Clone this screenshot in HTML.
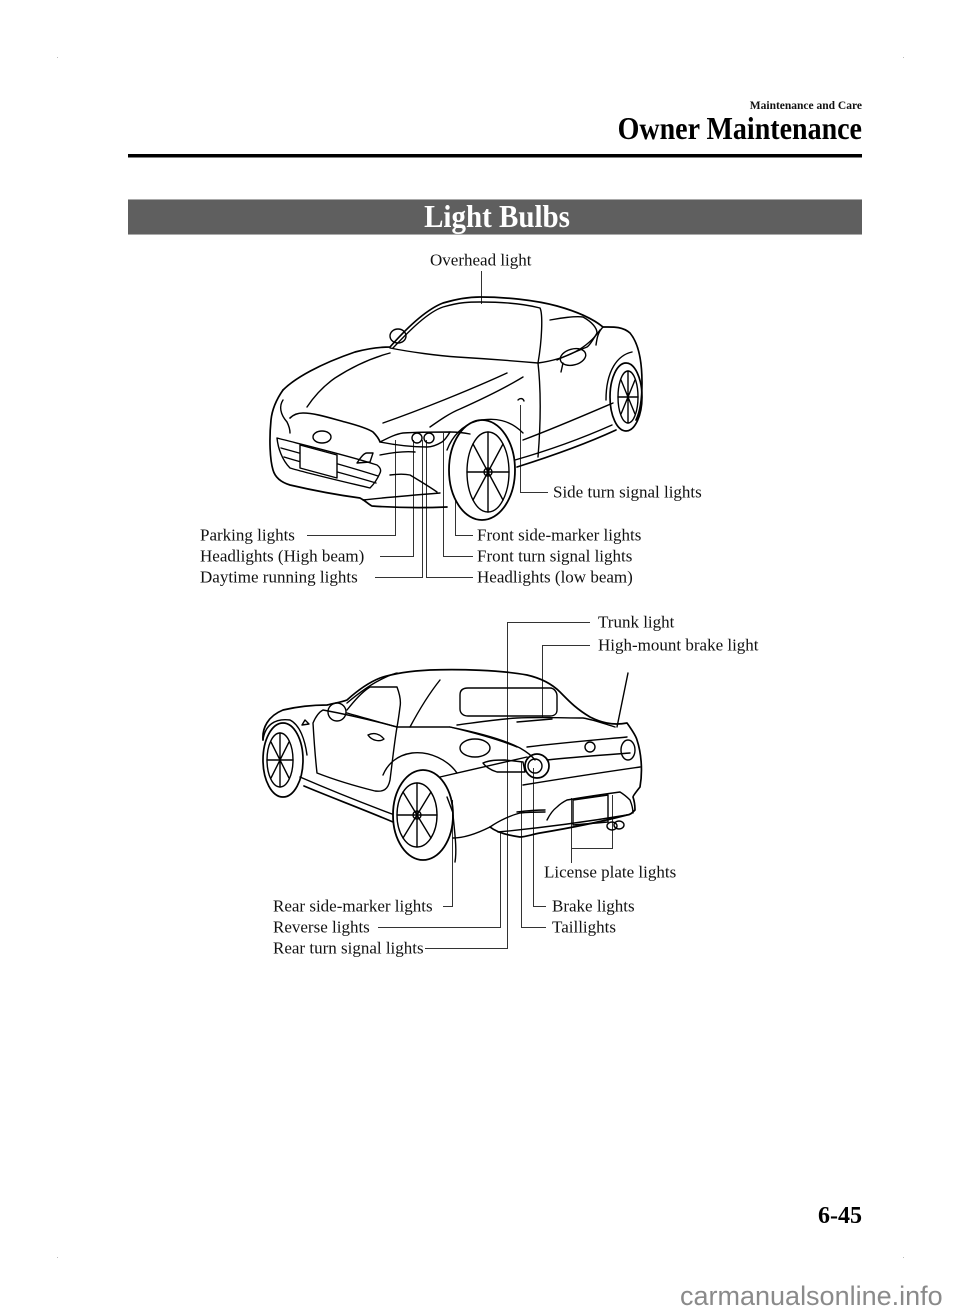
<!DOCTYPE html>
<html><head><meta charset="utf-8"><style>
html,body{margin:0;padding:0;background:#fff;}
svg{display:block;}
</style></head><body>
<svg width="960" height="1315" viewBox="0 0 960 1315" xmlns="http://www.w3.org/2000/svg">
<rect width="960" height="1315" fill="#fff"/>
<!-- crop dots -->
<g fill="#bbb"><rect x="57" y="57" width="1" height="1"/><rect x="903" y="57" width="1" height="1"/><rect x="57" y="1257" width="1" height="1"/><rect x="903" y="1257" width="1" height="1"/></g>
<!-- header -->
<text x="862" y="109" text-anchor="end" font-family="Liberation Serif, serif" font-weight="bold" font-size="11.5" fill="#111">Maintenance and Care</text>
<text x="862" y="139" text-anchor="end" font-family="Liberation Serif, serif" font-weight="bold" font-size="28" fill="#000" transform="translate(0 139) scale(1 1.12) translate(0 -139)">Owner Maintenance</text>
<rect x="128" y="154" width="734" height="3.5" fill="#000"/>
<rect x="128" y="199" width="734" height="36" fill="#5f5f5f"/>
<rect x="128" y="199" width="734" height="1" fill="#aaa"/>
<rect x="128" y="234" width="734" height="1" fill="#aaa"/>
<text x="497" y="227" text-anchor="middle" font-family="Liberation Serif, serif" font-weight="bold" font-size="29" fill="#fff" transform="translate(0 227) scale(1 1.08) translate(0 -227)">Light Bulbs</text>

<!-- labels -->
<g font-family="Liberation Serif, serif" font-size="17" fill="#111">
<text x="430" y="265.5">Overhead light</text>
<text x="553" y="497.5">Side turn signal lights</text>
<text x="200" y="540.5">Parking lights</text>
<text x="200" y="561.5">Headlights (High beam)</text>
<text x="200" y="582.5">Daytime running lights</text>
<text x="477" y="540.5">Front side-marker lights</text>
<text x="477" y="561.5">Front turn signal lights</text>
<text x="477" y="582.5">Headlights (low beam)</text>
<text x="598" y="627.5">Trunk light</text>
<text x="598" y="650.5">High-mount brake light</text>
<text x="544" y="877.5">License plate lights</text>
<text x="273" y="911.5">Rear side-marker lights</text>
<text x="273" y="932.5">Reverse lights</text>
<text x="273" y="953.5">Rear turn signal lights</text>
<text x="552" y="911.5">Brake lights</text>
<text x="552" y="932.5">Taillights</text>
</g>

<!-- leader lines -->
<g stroke="#333" stroke-width="1" fill="none">
<path d="M481.5 271 V304"/>
<path d="M520.5 405 V492.5 H548"/>
<path d="M307 535.5 H395.5 V440"/>
<path d="M380 556.5 H413.5 V440"/>
<path d="M375 577.5 H422.5 V440"/>
<path d="M473 577.5 H426.5 V440"/>
<path d="M473 556.5 H443.5 V433"/>
<path d="M473 535.5 H455.5 V500"/>
<path d="M590 622.5 H507.5 V948.5 H425"/>
<path d="M590 645.5 H542.5 V717"/>
<path d="M378 927.5 H500.5 V833"/>
<path d="M546 927.5 H521.5 V762"/>
<path d="M546 906.5 H533.5 V768"/>
<path d="M443 906.5 H452.5 V800"/>
<path d="M571.5 798 V863 M571.5 848.5 H612.5 V795"/>
</g>

<!-- FRONT CAR -->
<g stroke="#000" stroke-width="1.4" fill="none" stroke-linejoin="round" stroke-linecap="round">
<!-- hood outer / roof / rear -->
<path d="M283 390 C276 400 272 410 271 420 C269 440 270 460 273 470 C275 477 280 482 290 485 C320 492 345 496 360 498 C366 501 368 504 372 506 C400 508 425 508 447 507" stroke-width="1.7"/>
<path d="M283 390 C295 378 320 364 355 352 C370 348 382 347 390 347 C405 330 425 310 443 303 C460 298 470 297 480 297 C505 297 535 300 557 306 C575 311 592 318 603 327 C612 327 622 326 630 333 C640 345 642 365 642 383 C642 400 640 412 636 420" stroke-width="1.7"/>
<path d="M603 327 C598 332 597 338 596 345"/>
<!-- windshield -->
<path d="M393 348 C410 330 428 312 443 307 C460 302 470 302 480 302 C505 302 525 304 540 308 C543 314 542 340 538 363"/>
<path d="M390 348 C410 352 440 356 457 357 C490 359 515 361 538 363"/>
<!-- side window -->
<path d="M550 320 C560 318 575 316 583 317 C592 322 597 328 597 333 C593 340 590 345 587 347 C575 352 565 356 557 360"/>
<!-- mirrors -->
<ellipse cx="573" cy="357" rx="13" ry="8" transform="rotate(-15 573 357)"/>
<path d="M563 363 L561 372"/>
<ellipse cx="398" cy="336" rx="8" ry="7"/>
<!-- door/body -->
<path d="M538 363 C541 390 541 420 538 457"/>
<path d="M538 363 C560 360 585 352 600 330"/>
<path d="M523 440 C555 428 585 415 613 403"/>
<path d="M517 467 C555 455 590 442 616 430" stroke-width="1.7"/>
<path d="M515 460 C550 450 585 437 612 425"/>
<!-- rear wheel -->
<ellipse cx="626" cy="397" rx="16" ry="34" stroke-width="1.7"/>
<ellipse cx="628" cy="397" rx="10" ry="26"/>
<path d="M628 371 V423 M618 397 H638 M621 380 L635 414 M635 380 L621 414"/>
<path d="M606 400 C606 370 618 355 632 352"/>
<!-- front wheel -->
<path d="M447 450 C452 437 462 425 477 421 C495 417 510 420 523 433"/>
<ellipse cx="482" cy="470" rx="33" ry="50" stroke-width="1.8"/>
<ellipse cx="488" cy="472" rx="21" ry="40"/>
<circle cx="488" cy="472" r="4"/>
<path d="M488 432 V512 M467 472 H509 M473 444 L503 500 M503 444 L473 500"/>
<!-- nose -->
<path d="M290 418 C294 414 298 413 303 413 C315 413 330 418 345 422 C360 426 370 430 373 432 C377 436 379 439 380 442" stroke-width="1.6"/>
<path d="M283 400 C279 406 280 414 287 422 C289 426 290 430 290 433"/>
<!-- headlight -->
<path d="M380 442 C390 437 396 434 403 433 C420 432 438 432 450 432 C447 437 445 440 442 442 C437 445 432 447 427 447 C415 447 400 446 380 442 Z"/>
<circle cx="417" cy="438" r="5"/>
<circle cx="429" cy="438" r="5"/>
<ellipse cx="322" cy="437" rx="9" ry="6"/>
<!-- grille -->
<path d="M277 438 C300 444 350 456 377 465 C381 468 381 471 380 473 C377 480 373 485 370 488 C345 482 310 474 290 468 C282 460 278 448 277 438 Z"/>
<path d="M281 448 C310 456 350 467 378 476 M284 457 C310 465 350 475 376 483"/>
<path d="M300 445 L337 455 L337 478 L300 468 Z" fill="#fff"/>
<path d="M357 463 C361 457 364 453 367 453 L373 453 L370 462 Z"/>
<!-- lower bumper -->
<path d="M390 475 C398 474 405 474 410 475 C420 481 430 487 437 492"/>
<path d="M363 500 C390 497 415 495 440 493"/>
<path d="M380 455 C395 452 405 451 415 452"/>
<path d="M450 432 C458 432 465 433 470 434"/>
<!-- hood lines -->
<path d="M307 407 C315 395 325 385 335 378 C355 365 375 357 390 353"/>
<path d="M383 423 C420 410 470 390 507 373"/>
<path d="M430 427 C440 420 450 413 460 409 C480 400 505 388 523 377"/>
<path d="M518 400 C520 398 523 398 524 401"/>
</g>

<!-- REAR CAR -->
<g stroke="#000" stroke-width="1.4" fill="none" stroke-linejoin="round" stroke-linecap="round">
<!-- outer roof/body -->
<path d="M263 740 C262 728 268 716 283 710 C300 706 315 705 327 705 C335 703 342 702 347 700 C358 690 370 682 380 678 C395 673 410 671 430 670 C460 669 500 670 527 675 C540 678 552 684 560 692 C568 700 575 708 590 717 C600 722 612 726 627 723 C632 730 636 736 637 740 C641 752 643 770 640 787 C636 792 633 796 633 797 C635 803 635 808 635 810 C632 813 630 815 627 815 C600 822 570 828 540 833 C530 835 525 837 520 837 C505 835 495 831 490 827" stroke-width="1.7"/>
<!-- A pillar & windows -->
<path d="M347 703 C360 692 372 684 380 680 C386 677 392 674 397 673"/>
<path d="M347 710 C355 700 362 692 370 687 L397 687 C400 695 401 702 400 707 C399 715 398 722 397 727"/>
<path d="M347 713 C365 718 385 724 397 727 C420 727 440 727 450 727 C475 733 500 740 517 747"/>
<path d="M410 727 C418 712 428 695 440 680"/>
<path d="M460 695 C460 690 463 688 468 688 L550 688 C554 688 557 692 557 696 L557 710 C557 714 554 716 550 716 L468 716 C463 716 460 713 460 709 Z"/>
<path d="M457 725 C480 722 500 719 517 718 C540 717 565 718 583 718 C595 720 605 724 615 727"/>
<path d="M517 722 L552 719"/>
<!-- mirror -->
<ellipse cx="337" cy="712" rx="9" ry="9"/>
<!-- front-left wheel -->
<ellipse cx="283" cy="760" rx="20" ry="37" stroke-width="1.7"/>
<ellipse cx="280" cy="760" rx="13" ry="27"/>
<path d="M280 733 V787 M267 760 H293 M271 742 L289 778 M289 742 L271 778"/>
<path d="M263 740 C265 725 275 718 290 720 C300 725 305 740 307 755"/>
<path d="M305 720 L309 724 L302 725 Z"/>
<!-- door -->
<path d="M313 723 C316 716 319 712 323 710 C350 715 375 721 397 727 C394 745 392 765 390 780 C388 790 383 792 375 791 C355 786 335 780 317 773 C315 755 314 740 313 723 Z"/>
<path d="M368 735 C374 732 380 734 384 739 C380 742 372 741 368 735 Z"/>
<!-- rocker -->
<path d="M300 777 C330 790 360 802 392 814"/>
<path d="M304 786 C330 797 360 808 393 822" stroke-width="1.7"/>
<!-- rear wheel -->
<path d="M383 775 C388 763 398 755 412 753 C430 751 448 760 457 773"/>
<ellipse cx="423" cy="815" rx="30" ry="45" stroke-width="1.8"/>
<ellipse cx="417" cy="815" rx="20" ry="32"/>
<circle cx="417" cy="815" r="4"/>
<path d="M417 783 V847 M397 815 H437 M403 792 L431 838 M431 792 L403 838"/>
<path d="M453 815 C455 835 457 850 455 862"/>
<path d="M453 838 C465 838 478 833 490 827"/>
<!-- quarter panel & rear -->
<path d="M450 727 C480 733 505 740 520 748 C527 752 532 756 535 760"/>
<ellipse cx="475" cy="748" rx="15" ry="9"/>
<path d="M440 777 C470 770 505 762 527 757"/>
<circle cx="537" cy="766" r="12" stroke-width="1.7"/>
<circle cx="535" cy="766" r="7"/>
<path d="M483 763 C490 760 497 760 505 760 L523 762 L525 772 L497 772 C490 770 485 766 483 763 Z"/>
<path d="M527 747 C560 743 595 740 627 737"/>
<path d="M547 760 C575 757 605 755 630 753"/>
<circle cx="590" cy="747" r="5"/>
<ellipse cx="628" cy="750" rx="7" ry="10"/>
<path d="M523 785 C560 779 605 772 640 767"/>
<path d="M517 812 C525 811 535 810 545 810"/>
<path d="M547 820 C550 814 553 810 557 807 C560 804 563 802 567 800 C585 797 605 794 620 792 C625 795 628 798 630 800 C632 805 633 810 633 813"/>
<path d="M573 800 L608 795 L608 822 L573 825 Z"/>
<ellipse cx="612" cy="826" rx="5" ry="4"/>
<ellipse cx="619" cy="825" rx="5" ry="4"/>
<path d="M490 827 C500 820 512 815 520 813 C530 812 540 812 545 812"/>
<path d="M498 832 C540 828 585 822 627 815"/>
<path d="M447 797 L453 813"/>
<path d="M628 673 L617 727"/>
</g>

<!-- page number & watermark -->
<text x="862" y="1223" text-anchor="end" font-family="Liberation Serif, serif" font-weight="bold" font-size="24" fill="#000">6-45</text>
<text x="680" y="1305" font-family="Liberation Sans, sans-serif" font-size="27" fill="#8a8a8a">carmanualsonline.info</text>
</svg>
</body></html>
